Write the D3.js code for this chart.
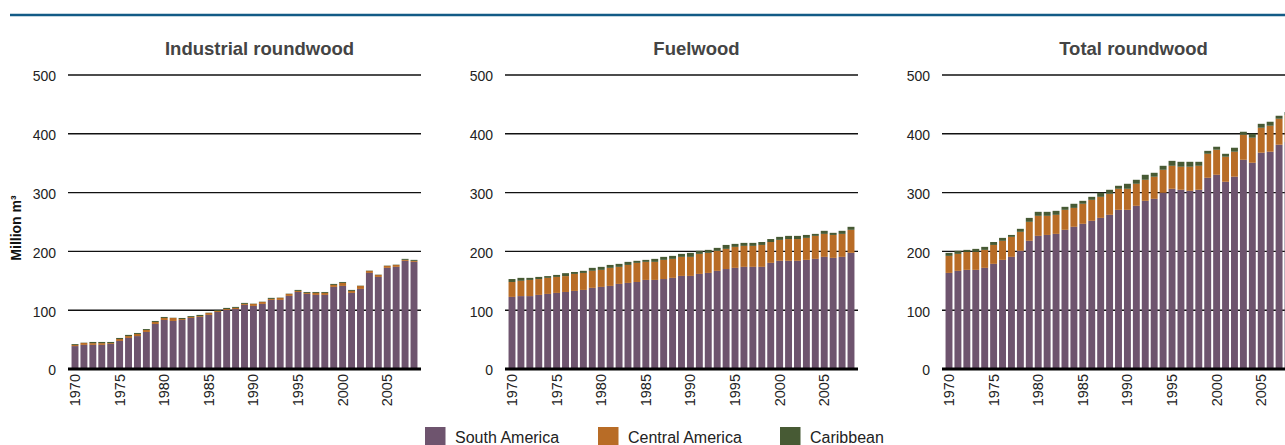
<!DOCTYPE html>
<html>
<head>
<meta charset="utf-8">
<script src="https://cdn.jsdelivr.net/npm/d3@7"></script>
<style>
  html, body { margin: 0; padding: 0; background: #fff; }
  svg { display: block; }
</style>
</head>
<body>
<svg id="chart" width="1285" height="445"></svg>
<script>
// ---------- DATA ----------
const years = d3.range(1970, 2009);
const yTicks = [0, 100, 200, 300, 400, 500];
const xTickYears = [1970, 1975, 1980, 1985, 1990, 1995, 2000, 2005];
const seriesNames = ["South America", "Central America", "Caribbean"];
const panelTitles = ["Industrial roundwood", "Fuelwood", "Total roundwood"];

// Industrial roundwood (million m3)
const indSouth = [39,41,41,41,42.5,47.7,52.8,56,63,76.6,83.4,81.7,83.4,86.8,88.5,92,97,100.4,102,109,107.3,110.7,117.5,117.5,124.3,131,127.7,126,126,139.6,141.3,129.4,136.2,163.4,156.6,172,173.7,183.9,182.2];
const indCentral = [2,3.3,3,3,1.5,3.3,3.2,3.6,3.4,3.4,3.4,5.1,1.6,1.7,1.5,3.3,1.7,1.6,1.9,1.7,3.4,3.3,1.7,3.5,3.4,1.8,1.7,3.4,3.4,3.4,5.1,3.4,5.1,3.5,3.4,3.4,3.3,1.7,1.7];
const indCarib = [1.5,0.5,2,2,2,1.8,2,1.7,1.6,1.7,1.7,0.4,1.8,1.5,2,0.5,1.7,1.9,1.7,1.7,0.5,0.5,1.8,0.5,0.5,1.7,1.6,1.6,1.6,1.7,1.6,1.7,0.5,0.5,0.5,0.5,0.5,1.7,1.7];

// Fuelwood (million m3)
const fuelSouth = [122.6,124,124,126,127.7,129.4,131,132.8,134.5,138,139.6,141.3,144.7,146.4,148,151.5,151.5,153,155,158.3,158.3,161.7,163.4,166.9,170,172,173.7,173.7,173.7,180.5,184,184,184,185.6,187.3,190.7,189,190.7,197.5];
const fuelCentral = [25.4,26,27.5,27,27.3,27.2,27,28.9,28.9,29,29,30.7,29,30.6,32.5,30.7,30.7,32.6,32.3,32.4,32.4,34.1,34.1,34.1,34.3,35.7,35.7,35.7,37.3,35.5,35.6,37,37,37.4,39.1,39.1,39,39.1,39.2];
const fuelCarib = [5,5,3.5,3.6,3,3.4,5,3.3,3.6,5,5.1,5,5.1,5.2,3.5,3.4,5.1,5.1,5.1,5.1,6.8,5.2,5.1,5,6.7,5.1,5.1,5.1,5,5,5.1,5.4,5.4,5,3.4,5.2,3.6,5.2,5.1];

// Total roundwood (million m3)
const totSouth = [163.4,166.9,168.6,168.6,172,178.8,185.6,190.7,201,218,226.4,228,229.8,236.7,241.8,246.9,252,257,262.2,270.7,270.7,277.5,286,289.4,299.7,306.5,304.8,303,304.8,325.2,330.3,318.4,327,355.8,350.7,367.8,369.5,381.4,386];
const totCentral = [29,28.9,30.6,30.6,30.6,32.2,32.4,34,32.3,32.3,34.1,32.5,32.4,34,32.2,34.1,35.7,35.8,35.8,35.8,35.8,37.5,35.8,37.6,39.1,39.1,39.2,41,40.8,40.8,42.6,42.6,42.5,42.6,42.6,42.5,44.2,44.2,46];
const totCarib = [5.1,5.2,3.4,5.1,5.1,5,5,3.3,5.1,6.7,6.8,6.8,6.8,5.1,7,5,5.1,6.9,6.8,5.1,8.5,6.8,8.5,6.7,6.8,8.4,8.4,8.4,6.8,5,5.1,5,6.8,5.1,6.8,6.7,6.8,5.1,5];

// ---------- STYLE ----------
const colors = {"South America": "#6e546e", "Central America": "#b86c26", "Caribbean": "#475a34"};
const FONT = "'Liberation Sans', Arial, Helvetica, sans-serif";

const panels = [
  {title: panelTitles[0], s: indSouth, c: indCentral, k: indCarib},
  {title: panelTitles[1], s: fuelSouth, c: fuelCentral, k: fuelCarib},
  {title: panelTitles[2], s: totSouth, c: totCentral, k: totCarib}
];

const svg = d3.select("#chart");

// top rule
svg.append("line")
  .attr("x1", 10).attr("x2", 1285)
  .attr("y1", 15).attr("y2", 15)
  .attr("stroke", "#135b86").attr("stroke-width", 2.6);

const plotTop = 75, plotBottom = 369, plotW = 353, panelStep = 437, firstLeft = 68;
const y = d3.scaleLinear().domain([0, 500]).range([plotBottom, plotTop]);

const stack = d3.stack().keys(seriesNames);

panels.forEach((p, i) => {
  const left = firstLeft + panelStep * i;
  const g = svg.append("g");
  const x = d3.scaleBand().domain(years).range([left, left + plotW])
    .paddingInner(0.224).paddingOuter(0.397);

  // title
  g.append("text")
    .attr("x", left + plotW / 2 + 15).attr("y", 55)
    .attr("text-anchor", "middle")
    .attr("font-family", FONT).attr("font-weight", "bold")
    .attr("font-size", 18.5).attr("fill", "#444")
    .text(p.title);

  // gridlines
  g.selectAll("line.grid").data(yTicks.filter(t => t > 0)).enter()
    .append("line").attr("class", "grid")
    .attr("x1", left).attr("x2", left + plotW)
    .attr("y1", d => y(d)).attr("y2", d => y(d))
    .attr("stroke", "#111").attr("stroke-width", 1.4);

  // y labels
  const yAxis = d3.axisLeft(y).tickValues(yTicks).tickSize(0).tickPadding(12);
  const ya = g.append("g").attr("transform", `translate(${left},0)`).call(yAxis);
  ya.select(".domain").remove();
  ya.selectAll("text").attr("font-family", FONT).attr("font-size", 14)
    .attr("fill", "#222").attr("dy", "0.42em");

  // bars
  const rows = years.map((yr, j) => ({
    year: yr,
    "South America": p.s[j],
    "Central America": p.c[j],
    "Caribbean": p.k[j]
  }));
  const layers = stack(rows);
  g.selectAll("g.layer").data(layers).enter().append("g")
    .attr("class", "layer")
    .attr("fill", d => colors[d.key])
    .selectAll("rect").data(d => d).enter().append("rect")
    .attr("x", d => x(d.data.year))
    .attr("width", x.bandwidth())
    .attr("y", d => y(d[1]))
    .attr("height", d => y(d[0]) - y(d[1]));

  // zero line
  g.append("line")
    .attr("x1", left).attr("x2", left + plotW)
    .attr("y1", y(0)).attr("y2", y(0))
    .attr("stroke", "#000").attr("stroke-width", 3);

  // x labels
  const xAxis = d3.axisBottom(x).tickValues(xTickYears).tickSize(0);
  const xa = g.append("g").attr("transform", `translate(0,${plotBottom})`).call(xAxis);
  xa.select(".domain").remove();
  xa.selectAll("text")
    .attr("font-family", FONT).attr("font-size", 14.5).attr("fill", "#222")
    .attr("transform", "rotate(-90)")
    .attr("text-anchor", "end")
    .attr("x", -5).attr("y", 0).attr("dy", "0.35em");
});

// y-axis title
svg.append("text")
  .attr("transform", "translate(16,228) rotate(-90)")
  .attr("text-anchor", "middle").attr("dy", "0.35em")
  .attr("font-family", FONT).attr("font-weight", "bold")
  .attr("font-size", 14).attr("fill", "#111")
  .text("Million m³");

// legend
const legendX = [425, 598, 780];
const lg = svg.append("g");
seriesNames.forEach((name, i) => {
  lg.append("rect").attr("x", legendX[i]).attr("y", 427)
    .attr("width", 20.5).attr("height", 20).attr("fill", colors[name]);
  lg.append("text").attr("x", legendX[i] + 30).attr("y", 443)
    .attr("font-family", FONT).attr("font-size", 16).attr("fill", "#222")
    .text(name);
});
</script>
</body>
</html>
